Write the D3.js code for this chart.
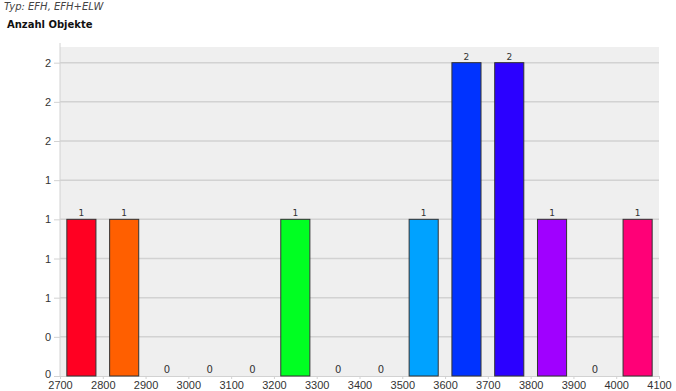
<!DOCTYPE html>
<html>
<head>
<meta charset="utf-8">
<script src="https://cdn.jsdelivr.net/npm/d3@7"></script>
<style>
body { margin:0; background:#fff; font-family:"DejaVu Sans", Verdana, sans-serif; }
.grid line { stroke:#d2d2d2; stroke-width:1.5; }
.axis path, .axis line { stroke:#d2d2d2; }
.axis text { fill:#333; font-size:11px; }
</style>
</head>
<body>
<svg id="myGraph" width="676" height="391"></svg>
<script>
var binStarts = [2700,2800,2900,3000,3100,3200,3300,3400,3500,3600,3700,3800,3900,4000];	// Klassen
var counts = [1,1,0,0,0,1,0,0,1,2,2,1,0,1];	// Anzahl Objekte
var barColors = ["#ff0022","#ff5f00","#ff9900","#ffcc00","#ccff00","#00ff22","#00ffaa","#00eeff","#00a2ff","#0033ff","#2b00ff","#a000ff","#ff00cc","#ff0077"];
var xTicks = [2700,2800,2900,3000,3100,3200,3300,3400,3500,3600,3700,3800,3900,4000,4100];
var yTicks = [0,0.25,0.5,0.75,1,1.25,1.5,1.75,2];

var svg = d3.select("#myGraph");
var plotLeft = 60, plotRight = 659, plotTop = 47, plotBottom = 376;

var x = d3.scaleLinear().domain([2700,4100]).range([plotLeft,plotRight]);
var y = d3.scaleLinear().domain([0,2.1]).range([plotBottom,plotTop]);
var binW = x(2800) - x(2700);
var barW = binW * 0.68;

// Titel
svg.append("text").attr("x",4).attr("y",10).attr("font-size","10px")
	.attr("font-style","italic").attr("fill","#444").text("Typ: EFH, EFH+ELW");
svg.append("text").attr("x",7).attr("y",28).attr("font-size","10px")
	.attr("font-weight","bold").attr("fill","#111").text("Anzahl Objekte");

// Hintergrund
svg.append("rect").attr("x",plotLeft).attr("y",plotTop)
	.attr("width",plotRight-plotLeft).attr("height",plotBottom-plotTop).attr("fill","#efefef");

// Gitterlinien
svg.append("g").attr("class","grid")
	.selectAll("line").data(yTicks.slice(1)).enter().append("line")
	.attr("x1",plotLeft).attr("x2",plotRight)
	.attr("y1",function(d){ return y(d); }).attr("y2",function(d){ return y(d); });

// Achsen
var yAxis = d3.axisLeft(y).tickValues(yTicks).tickFormat(d3.format(".0f")).tickSize(6).tickPadding(3);
svg.append("g").attr("class","axis")
	.attr("transform","translate("+plotLeft+",0)")
	.call(yAxis)
	.call(function(g){ g.select(".domain").attr("d","M0,"+(plotTop-4)+"V"+plotBottom); })
	.call(function(g){ g.selectAll(".tick text").filter(function(d){ return d === 0; }).attr("dy","0.1em"); });

var xAxis = d3.axisBottom(x).tickValues(xTicks).tickFormat(d3.format("d")).tickSize(3).tickPadding(2);
svg.append("g").attr("class","axis")
	.attr("transform","translate(0,"+plotBottom+")")
	.call(xAxis);

// Balken
svg.append("g").selectAll("rect").data(counts).enter().append("rect")
	.attr("x",function(d,i){ return x(binStarts[i]) + (binW-barW)/2; })
	.attr("y",function(d){ return y(d); })
	.attr("width",barW)
	.attr("height",function(d){ return plotBottom - y(d); })
	.attr("fill",function(d,i){ return barColors[i]; })
	.attr("stroke","#333")
	.attr("stroke-width",1)
	.style("display",function(d){ return d > 0 ? null : "none"; });

// Werte
svg.append("g").selectAll("text").data(counts).enter().append("text")
	.attr("x",function(d,i){ return x(binStarts[i]) + binW/2; })
	.attr("y",function(d){ return d > 0 ? y(d) - 3 : plotBottom - 3; })
	.attr("text-anchor","middle")
	.attr("font-size",function(d){ return d > 0 ? "9px" : "10px"; })
	.attr("fill","#333")
	.text(function(d){ return d; });
</script>
</body>
</html>
